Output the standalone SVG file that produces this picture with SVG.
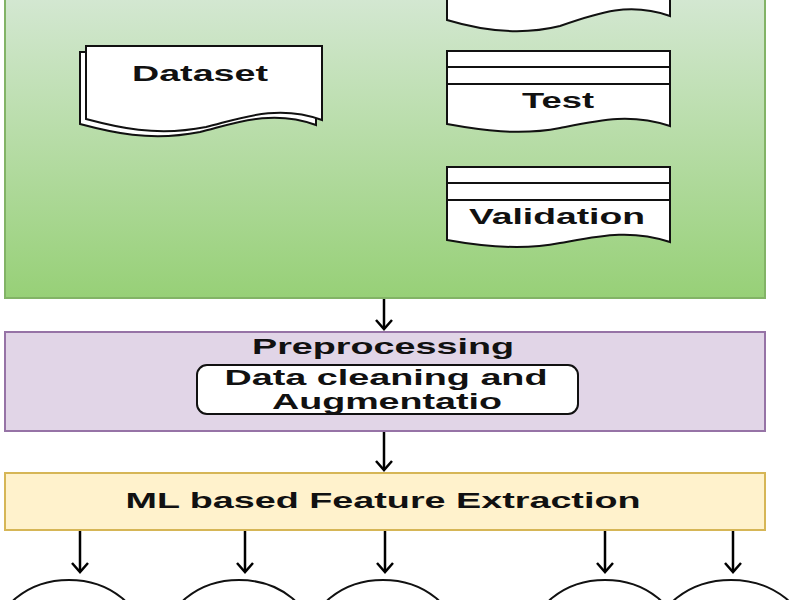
<svg xmlns="http://www.w3.org/2000/svg" width="800" height="600" viewBox="0 0 800 600">
<defs>
<linearGradient id="g" x1="0" y1="0" x2="0" y2="1"><stop offset="0" stop-color="#d5e8d4"/><stop offset="1" stop-color="#97d077"/></linearGradient>
</defs>
<style>
text{font-family:"Liberation Sans",Arial,sans-serif;font-weight:bold;font-size:22px;fill:#111;text-anchor:middle}
.doc{fill:#fff;stroke:#111;stroke-width:2}
.ln{stroke:#111;stroke-width:2}
.c{fill:#fff;stroke:#111;stroke-width:2}
.ah{fill:none;stroke:#000;stroke-width:2.5}
</style>
<g id="data">
<rect x="5" y="-10" width="760" height="308" fill="url(#g)" stroke="#82b366" stroke-width="2"/>
</g>
<g id="dataset">
<path class="doc" d="M80,52 H316 V125 C270,108 230,125 200,132 C150,142 110,132 80,124 Z"/>
<path class="doc" d="M86,46 H322 V120 C276,103 236,120 206,127 C156,137 116,127 86,119 Z"/>
<text x="200" y="81" textLength="136" lengthAdjust="spacingAndGlyphs">Dataset</text>
</g>
<g id="train">
<path class="doc" d="M447,-10 H670 V16 C630,2 600,12 560,26 C520,36 480,30 447,20 Z"/>
</g>
<g id="test">
<path class="doc" d="M447,51 H670 V126 C630,113 600,120 560,128 C520,136 480,130 447,124 Z"/>
<line class="ln" x1="447" y1="67" x2="670" y2="67"/><line class="ln" x1="447" y1="84" x2="670" y2="84"/>
<text x="558" y="108" textLength="72" lengthAdjust="spacingAndGlyphs">Test</text>
</g>
<g id="validation">
<path class="doc" d="M447,167 H670 V242 C630,229 600,236 560,243 C520,251 480,246 447,240 Z"/>
<line class="ln" x1="447" y1="183" x2="670" y2="183"/><line class="ln" x1="447" y1="200" x2="670" y2="200"/>
<text x="557" y="224" textLength="176" lengthAdjust="spacingAndGlyphs">Validation</text>
</g>
<g id="preprocessing">
<rect x="5" y="332" width="760" height="99" fill="#e1d5e7" stroke="#9673a6" stroke-width="2"/>
<text x="383" y="354" textLength="262" lengthAdjust="spacingAndGlyphs">Preprocessing</text>
</g>
<g id="cleaning">
<rect x="197" y="365" width="381" height="49" rx="10" fill="#fff" stroke="#111" stroke-width="2"/>
<text x="386" y="385" textLength="323" lengthAdjust="spacingAndGlyphs">Data cleaning and</text>
<text x="387" y="409" textLength="230" lengthAdjust="spacingAndGlyphs">Augmentatio</text>
</g>
<g id="ml">
<rect x="5" y="473" width="760" height="57" fill="#fff2cc" stroke="#d6b656" stroke-width="2"/>
<text x="383" y="508" textLength="515" lengthAdjust="spacingAndGlyphs">ML based Feature Extraction</text>
</g>
<g id="c1"><ellipse class="c" cx="69" cy="640" rx="74" ry="60"/></g>
<g id="c2"><ellipse class="c" cx="239" cy="640" rx="74" ry="60"/></g>
<g id="c3"><ellipse class="c" cx="383" cy="640" rx="74" ry="60"/></g>
<g id="c4"><ellipse class="c" cx="605" cy="640" rx="74" ry="60"/></g>
<g id="c5"><ellipse class="c" cx="731" cy="640" rx="76" ry="60"/></g>
<g id="connectors" stroke="#000" stroke-width="2.5">
<line x1="384" y1="299" x2="384" y2="329"/><path class="ah" d="M376,320 L384,329 L392,320"/>
<line x1="384" y1="432" x2="384" y2="470"/><path class="ah" d="M376,461 L384,470 L392,461"/>
<line x1="80" y1="531" x2="80" y2="572"/><path class="ah" d="M72,563 L80,572 L88,563"/>
<line x1="245" y1="531" x2="245" y2="572"/><path class="ah" d="M237,563 L245,572 L253,563"/>
<line x1="385" y1="531" x2="385" y2="572"/><path class="ah" d="M377,563 L385,572 L393,563"/>
<line x1="605" y1="531" x2="605" y2="572"/><path class="ah" d="M597,563 L605,572 L613,563"/>
<line x1="733" y1="531" x2="733" y2="572"/><path class="ah" d="M725,563 L733,572 L741,563"/>
</g>
</svg>
